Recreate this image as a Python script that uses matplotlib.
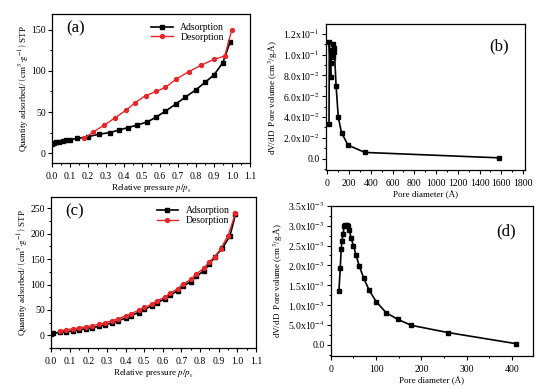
import numpy as np
import matplotlib.pyplot as plt
from matplotlib.ticker import AutoMinorLocator, FixedLocator, FixedFormatter

# --- dados ---
# (a) isoterma
a_ads_p = [0.0, 0.01, 0.02, 0.04, 0.06, 0.08, 0.10, 0.14, 0.20, 0.26, 0.32, 0.37, 0.42,
           0.47, 0.53, 0.58, 0.63, 0.69, 0.74, 0.80, 0.85, 0.90, 0.95, 0.99]
a_ads_q = [11, 12, 13, 14, 15, 16, 16.5, 18, 20, 23, 25, 28, 31,
           34, 38, 44, 51, 60, 68, 77, 86, 95, 110, 135]
a_des_p = [0.18, 0.23, 0.29, 0.35, 0.41, 0.46, 0.52, 0.58, 0.63, 0.69, 0.76, 0.83, 0.90, 0.96, 1.0]
a_des_q = [18, 26, 34, 43, 52, 61, 70, 75, 80, 90, 99, 107, 114, 118, 150]

# (b) distribuicao de poros
b_d = [15, 18, 30, 33, 38, 42, 48, 55, 60, 65, 80, 100, 130, 190, 345, 1580]
b_v = [0.033, 0.112, 0.078, 0.092, 0.100, 0.104, 0.098, 0.110, 0.106, 0.102,
       0.070, 0.040, 0.025, 0.013, 0.006, 0.0008]

# (c) isoterma
c_ads_p = [0.0, 0.01, 0.05, 0.08, 0.12, 0.15, 0.19, 0.22, 0.26, 0.29, 0.33, 0.36, 0.40, 0.43,
           0.47, 0.50, 0.54, 0.57, 0.61, 0.64, 0.68, 0.71, 0.75, 0.78, 0.82, 0.85, 0.88,
           0.92, 0.96, 0.99]
c_ads_q = [3, 4, 6, 7, 9, 11, 13, 15, 18, 21, 25, 29, 34, 39,
           45, 51, 58, 64, 72, 79, 88, 97, 106, 116, 127, 140, 155,
           172, 195, 238]
c_des_p = [0.05, 0.08, 0.12, 0.15, 0.19, 0.22, 0.26, 0.29, 0.33, 0.36, 0.40, 0.43, 0.47,
           0.50, 0.54, 0.57, 0.61, 0.64, 0.68, 0.71, 0.75, 0.78, 0.82, 0.85, 0.88, 0.91,
           0.95, 0.99]
c_des_q = [9, 11, 13, 15, 17, 19, 22, 25, 29, 33, 38, 43, 49,
           55, 61, 68, 75, 83, 92, 101, 110, 121, 132, 145, 155, 170,
           196, 240]

# (d) distribuicao de poros
d_d = [18, 21, 23, 25, 27, 30, 32, 35, 38, 41, 45, 50, 56, 63, 73, 85, 100,
       122, 148, 178, 258, 408]
d_v = [1.35e-3, 1.93e-3, 2.40e-3, 2.62e-3, 2.78e-3, 3.00e-3, 3.02e-3, 3.02e-3, 3.00e-3,
       2.90e-3, 2.68e-3, 2.50e-3, 2.25e-3, 1.98e-3, 1.67e-3, 1.37e-3, 1.09e-3,
       8.1e-4, 6.4e-4, 4.9e-4, 3.1e-4, 3e-5]

b_ticks = [0.0, 0.02, 0.04, 0.06, 0.08, 0.10, 0.12]
b_labels = ['0.0', r'2.0x10$^{-2}$', r'4.0x10$^{-2}$', r'6.0x10$^{-2}$',
            r'8.0x10$^{-2}$', r'1.0x10$^{-1}$', r'1.2x10$^{-1}$']
d_ticks = [0.0, 5e-4, 1e-3, 1.5e-3, 2e-3, 2.5e-3, 3e-3, 3.5e-3]
d_labels = ['0.0', r'5.0x10$^{-4}$', r'1.0x10$^{-3}$', r'1.5x10$^{-3}$',
            r'2.0x10$^{-3}$', r'2.5x10$^{-3}$', r'3.0x10$^{-3}$', r'3.5x10$^{-3}$']

plt.rcParams['font.family'] = 'Liberation Serif'
plt.rcParams['mathtext.fontset'] = 'stix'
plt.rcParams['font.size'] = 6.5
plt.rcParams['axes.linewidth'] = 0.9

fig = plt.figure(figsize=(5.54, 3.92), dpi=100)

iso_ylabel = r'Quantity adsorbed/ $\left(\mathrm{cm}^{3}\!\cdot\!\mathrm{g}^{-1}\right)$ STP'
iso_xlabel = r'Relative pressure $p/p_{_{0}}$'
pv_ylabel = r'dV/dD  Pore volume (cm$^3$/g.Å)'


def style(ax):
    ax.tick_params(which='both', direction='out', labelsize=7, width=0.8)
    ax.tick_params(which='major', length=3)
    ax.tick_params(which='minor', length=1.5)
    ax.xaxis.set_minor_locator(AutoMinorLocator(2))
    ax.yaxis.set_minor_locator(AutoMinorLocator(2))
    ax.tick_params(axis='y', pad=1.5)


def isotherm(ax, ap, aq, dp, dq, ylim, yticks, tag):
    ax.plot(ap, aq, color='black', marker='s', ms=2.8, lw=1.2, label='Adsorption')
    ax.plot(dp, dq, color='#e8262a', marker='o', ms=2.8, lw=1.0, label='Desorption')
    ax.set_xlim(0, 1.1)
    ax.set_xticks(np.arange(0, 1.11, 0.1))
    ax.set_xticklabels([f'{t:.1f}' for t in np.arange(0, 1.11, 0.1)])
    ax.set_ylim(*ylim)
    ax.set_yticks(yticks)
    ax.set_xlabel(iso_xlabel, fontsize=6.5, labelpad=1)
    ax.set_ylabel(iso_ylabel, fontsize=6.5, labelpad=1)
    style(ax)
    ax.legend(loc='upper right', bbox_to_anchor=(0.90, 0.98), frameon=False,
              fontsize=7, handlelength=2.2, labelspacing=0.1, borderaxespad=0.2)
    ax.text(0.07, 0.88, tag, transform=ax.transAxes, fontsize=12)


ax1 = fig.add_axes([0.094, 0.584, 0.357, 0.380])
isotherm(ax1, a_ads_p, a_ads_q, a_des_p, a_des_q, (-12, 169), [0, 50, 100, 150], '(a)')

ax3 = fig.add_axes([0.092, 0.112, 0.370, 0.385])
isotherm(ax3, c_ads_p, c_ads_q, c_des_p, c_des_q, (-25, 272), [0, 50, 100, 150, 200, 250], '(c)')

ax2 = fig.add_axes([0.588, 0.566, 0.359, 0.372])
ax2.plot(b_d, b_v, color='black', marker='s', ms=2.8, lw=1.2)
ax2.set_xlim(-15, 1815)
ax2.set_xticks(np.arange(0, 1801, 200))
ax2.set_ylim(-0.011, 0.129)
ax2.yaxis.set_major_locator(FixedLocator(b_ticks))
ax2.yaxis.set_major_formatter(FixedFormatter(b_labels))
ax2.set_xlabel('Pore diameter (Å)', fontsize=6.5, labelpad=2)
ax2.set_ylabel(pv_ylabel, fontsize=6.5, labelpad=2)
style(ax2)
ax2.text(0.82, 0.82, '(b)', transform=ax2.transAxes, fontsize=12)

ax4 = fig.add_axes([0.597, 0.092, 0.365, 0.383])
ax4.plot(d_d, d_v, color='black', marker='s', ms=2.8, lw=1.2)
ax4.set_xlim(0, 446)
ax4.set_xticks([0, 100, 200, 300, 400])
ax4.set_ylim(-2.8e-4, 3.5e-3)
ax4.yaxis.set_major_locator(FixedLocator(d_ticks))
ax4.yaxis.set_major_formatter(FixedFormatter(d_labels))
ax4.set_xlabel('Pore diameter (Å)', fontsize=6.5, labelpad=2)
ax4.set_ylabel(pv_ylabel, fontsize=6.5, labelpad=2)
style(ax4)
ax4.text(0.82, 0.80, '(d)', transform=ax4.transAxes, fontsize=12)

fig.savefig('out.png', dpi=100)
